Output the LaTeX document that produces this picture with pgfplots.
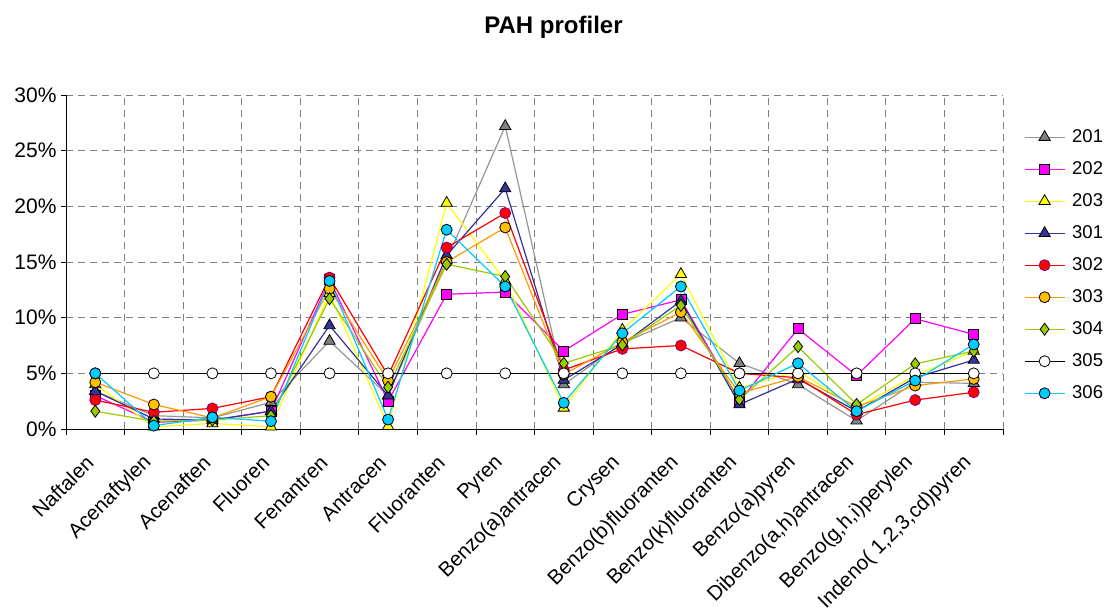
\documentclass[border=0pt]{standalone}
\usepackage{pgfplots}
\pgfplotsset{compat=1.18}
\usepackage{pgfplotstable}
\usepackage{fontspec}
\setmainfont{Liberation Sans}
\definecolor{c201l}{HTML}{969696}
\definecolor{c201m}{HTML}{808080}
\definecolor{c202}{HTML}{FF00FF}
\definecolor{c203}{HTML}{FFFF00}
\definecolor{c301}{HTML}{333399}
\definecolor{c302}{HTML}{FF0000}
\definecolor{c302b}{HTML}{800080}
\definecolor{c303l}{HTML}{FF9900}
\definecolor{c303m}{HTML}{FFC000}
\definecolor{c304}{HTML}{99CC00}
\definecolor{c306}{HTML}{00CCFF}
\definecolor{gridc}{HTML}{808080}

\pgfplotstableread{
x  s201  s202  s203  s301  s302  s303  s304  s305  s306
0  3.4   3.0   4.0   3.4   2.6   4.2   1.6   5.0   5.0
1  1.2   0.6   0.2   0.9   1.5   2.2   0.7   5.0   0.3
2  1.0   0.8   0.5   0.8   1.85  1.0   0.8   5.0   1.05
3  2.4   1.6   0.2   1.6   2.9   2.9   1.2   5.0   0.7
4  7.9   13.4  12.2  9.3   13.6  12.6  11.7  5.0   13.3
5  3.0   2.5   0.25  3.0   4.8   4.35  3.75  5.0   0.85
6  15.2  12.1  20.3  15.6  16.3  15.0  14.8  5.0   17.9
7  27.2  12.3  13.3  21.6  19.4  18.1  13.7  5.0   12.8
8  4.0   7.0   1.9   4.4   5.3   4.9   5.9   5.0   2.35
9  7.7   10.3  8.9   7.6   7.2   7.8   7.55  5.0   8.6
10 10.0  11.6  13.9  11.5  7.5   10.5  11.1  5.0   12.8
11 5.9   2.5   3.7   2.2   5.0   3.2   2.65  5.0   3.45
12 4.0   9.0   5.2   4.5   4.6   4.7   7.4   5.0   5.9
13 0.75  4.8   1.9   1.6   1.3   2.0   2.2   5.0   1.6
14 4.2   9.9   4.8   4.6   2.6   3.9   5.85  5.0   4.35
15 4.1   8.5   7.0   6.2   3.3   4.5   7.0   5.0   7.6
}\datatable

\begin{document}
\begin{tikzpicture}
\useasboundingbox (0pt,0pt) rectangle (1108pt,614pt);
\node[anchor=base, font=\bfseries\fontsize{24}{28}\selectfont] at (553.5pt,580pt) {PAH profiler};
\begin{axis}[
  at={(66pt,185pt)}, anchor=south west,
  width=937pt, height=334pt, scale only axis,
  xmin=-0.5, xmax=15.5, ymin=0, ymax=30,
  axis x line*=bottom, axis y line*=left,
  axis line style={-, black, line width=1pt},
  tick align=outside,
  major tick length=5pt, minor tick length=6pt,
  tick style={black, line width=0.8pt},
  xtick={0,...,15},
  xticklabels={Naftalen,Acenaftylen,Acenaften,Fluoren,Fenantren,Antracen,Fluoranten,Pyren,Benzo(a)antracen,Crysen,Benzo(b)fluoranten,Benzo(k)fluoranten,Benzo(a)pyren,{Dibenzo(a,h)antracen},{Benzo(g,h,i)perylen},{Indeno( 1,2,3,cd)pyren}},
  major x tick style={draw=none},
  minor xtick={-0.5,0.5,...,15.5},
  xminorgrids=true, ymajorgrids=true, xmajorgrids=false,
  grid style={gridc, line width=0.8pt, dash pattern=on 7pt off 5pt},
  minor grid style={gridc, line width=0.8pt, dash pattern=on 7pt off 5pt},
  ytick={0,5,...,30},
  yticklabels={0\%,5\%,10\%,15\%,20\%,25\%,30\%},
  yticklabel style={font=\fontsize{21}{24}\selectfont, xshift=-1pt},
  xticklabel style={font=\fontsize{20.5}{23}\selectfont, xshift=-4pt, yshift=-24pt, rotate=45, anchor=east, inner sep=2pt},
  clip=false,
  every axis plot/.append style={line width=1.2pt},
  legend cell align=left,
  legend style={at={(1.019,0.905)}, anchor=north west, draw=none, fill=none,
    font=\fontsize{18.5}{20}\selectfont, row sep=15.6pt,
    nodes={inner sep=1pt},
    /tikz/every odd column/.append style={column sep=6pt}},
  legend image code/.code={\draw[mark repeat=2,mark phase=2] plot coordinates {(0pt,0pt) (20pt,0pt) (40pt,0pt)};},
]
\addplot[c201l, mark=triangle*, mark size=6.5pt, mark options={fill=c201m, draw=black, line width=0.8pt}] table[x=x,y=s201]{\datatable};
\addlegendentry{201}
\addplot[c202, mark=square*, mark size=5pt, mark options={fill=c202, draw=black, line width=0.8pt}] table[x=x,y=s202]{\datatable};
\addlegendentry{202}
\addplot[c203, mark=triangle*, mark size=6.5pt, mark options={fill=c203, draw=black, line width=0.8pt}] table[x=x,y=s203]{\datatable};
\addlegendentry{203}
\addplot[c301, mark=triangle*, mark size=6.5pt, mark options={fill=c301, draw=black, line width=0.8pt}] table[x=x,y=s301]{\datatable};
\addlegendentry{301}
\addplot[c302, mark=*, mark size=5.5pt, mark options={fill=c302, draw=c302b, line width=0.8pt}] table[x=x,y=s302]{\datatable};
\addlegendentry{302}
\addplot[c303l, mark=*, mark size=5.5pt, mark options={fill=c303m, draw=black, line width=0.8pt}] table[x=x,y=s303]{\datatable};
\addlegendentry{303}
\addplot[c304, mark=diamond*, mark size=6pt, mark options={fill=c304, draw=black, line width=0.8pt}] table[x=x,y=s304]{\datatable};
\addlegendentry{304}
\addplot[black, mark=*, mark size=5.5pt, mark options={fill=white, draw=black, line width=0.8pt}] table[x=x,y=s305]{\datatable};
\addlegendentry{305}
\addplot[c306, mark=*, mark size=5.5pt, mark options={fill=c306, draw=black, line width=0.8pt}] table[x=x,y=s306]{\datatable};
\addlegendentry{306}
\end{axis}
\end{tikzpicture}
\end{document}
